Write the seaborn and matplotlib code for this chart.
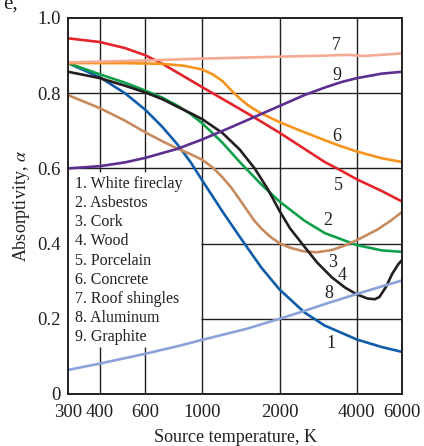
import matplotlib
matplotlib.use("Agg")
import matplotlib.pyplot as plt
from matplotlib.ticker import NullLocator
import numpy as np
import pandas as pd
import seaborn as sns

# ---------------- data ----------------
fireclay_T = [300, 400, 500, 600, 700, 800, 900, 1000, 1200, 1400, 1700, 2000, 2500, 3000, 4000, 5000, 6000]
fireclay_a = [0.880, 0.842, 0.800, 0.756, 0.710, 0.664, 0.617, 0.568, 0.485, 0.418, 0.336, 0.278, 0.217, 0.182, 0.145, 0.125, 0.112]

asbestos_T = [300, 400, 500, 600, 700, 800, 900, 1000, 1200, 1400, 1700, 2000, 2500, 3000, 4000, 5000, 6000]
asbestos_a = [0.880, 0.850, 0.828, 0.807, 0.788, 0.767, 0.745, 0.720, 0.668, 0.617, 0.557, 0.512, 0.461, 0.428, 0.396, 0.382, 0.378]

cork_T = [300, 400, 500, 600, 700, 800, 900, 1000, 1100, 1200, 1300, 1400, 1500, 1600, 1700, 1850, 2000, 2200, 2500, 2800, 3200, 3600, 4000, 4800, 5400, 6000]
cork_a = [0.795, 0.760, 0.727, 0.696, 0.672, 0.653, 0.638, 0.623, 0.602, 0.576, 0.548, 0.517, 0.487, 0.460, 0.440, 0.417, 0.401, 0.389, 0.379, 0.377, 0.383, 0.395, 0.409, 0.437, 0.460, 0.484]

wood_T = [300, 400, 500, 600, 700, 800, 900, 1000, 1200, 1400, 1600, 1800, 2000, 2200, 2500, 2800, 3200, 3600, 4000, 4400, 4700, 4900, 5200, 5500, 5800, 6000]
wood_a = [0.857, 0.840, 0.820, 0.802, 0.784, 0.764, 0.747, 0.731, 0.694, 0.650, 0.600, 0.545, 0.487, 0.440, 0.392, 0.350, 0.310, 0.283, 0.265, 0.254, 0.252, 0.258, 0.285, 0.320, 0.345, 0.356]

porcelain_T = [300, 400, 500, 600, 700, 800, 1000, 1300, 1600, 2000, 2500, 3000, 3500, 4000, 5000, 6000]
porcelain_a = [0.946, 0.936, 0.920, 0.901, 0.878, 0.855, 0.816, 0.771, 0.735, 0.695, 0.652, 0.617, 0.593, 0.571, 0.540, 0.512]

concrete_T = [300, 500, 700, 850, 1000, 1100, 1200, 1300, 1400, 1500, 1650, 1800, 2000, 2400, 3000, 3500, 4000, 5000, 6000]
concrete_a = [0.880, 0.880, 0.878, 0.873, 0.863, 0.850, 0.832, 0.807, 0.786, 0.769, 0.751, 0.738, 0.723, 0.701, 0.675, 0.658, 0.645, 0.627, 0.617]

shingles_T = [300, 600, 1000, 2000, 3000, 3700, 4200, 5000, 6000]
shingles_a = [0.882, 0.887, 0.892, 0.897, 0.900, 0.902, 0.899, 0.902, 0.906]

aluminum_T = [300, 400, 600, 800, 1000, 1500, 2000, 2500, 3000, 4000, 5000, 6000]
aluminum_a = [0.064, 0.081, 0.107, 0.127, 0.144, 0.174, 0.200, 0.221, 0.239, 0.266, 0.286, 0.302]

graphite_T = [300, 400, 500, 600, 800, 1000, 1300, 1600, 2000, 2500, 3000, 3500, 4000, 5000, 6000]
graphite_a = [0.600, 0.606, 0.616, 0.628, 0.652, 0.677, 0.710, 0.737, 0.766, 0.795, 0.815, 0.830, 0.840, 0.852, 0.857]

materials = ["White fireclay", "Asbestos", "Cork", "Wood", "Porcelain",
             "Concrete", "Roof shingles", "Aluminum", "Graphite"]
curve_numbers = ["1", "2", "3", "4", "5", "6", "7", "8", "9"]
label_T = [3170, 3090, 3230, 3500, 3390, 3340, 3340, 3110, 3340]
label_a = [0.135, 0.462, 0.351, 0.316, 0.555, 0.685, 0.927, 0.266, 0.847]

x_ticks = [300, 400, 600, 1000, 2000, 4000, 6000]
x_ticklabels = ["300", "400", "600", "1000", "2000", "4000", "6000"]
y_ticks = [0, 0.2, 0.4, 0.6, 0.8, 1.0]
y_ticklabels = ["0", "0.2", "0.4", "0.6", "0.8", "1.0"]

series = [(fireclay_T, fireclay_a), (asbestos_T, asbestos_a), (cork_T, cork_a),
          (wood_T, wood_a), (porcelain_T, porcelain_a), (concrete_T, concrete_a),
          (shingles_T, shingles_a), (aluminum_T, aluminum_a), (graphite_T, graphite_a)]

frames = []
for name, (T, a) in zip(materials, series):
    frames.append(pd.DataFrame({"T": T, "a": a, "material": name}))
df = pd.concat(frames, ignore_index=True)

palette = {
    "White fireclay": "#0F5CA8",
    "Asbestos": "#10A04B",
    "Cork": "#C78B5E",
    "Wood": "#231F20",
    "Porcelain": "#E4232B",
    "Concrete": "#F7941D",
    "Roof shingles": "#F6AA92",
    "Aluminum": "#8CA2DA",
    "Graphite": "#5B2E90",
}

# ---------------- figure ----------------
sns.set_style("white")
plt.rcParams["font.family"] = ["Liberation Serif", "DejaVu Serif"]
plt.rcParams["mathtext.fontset"] = "stix"

fig = plt.figure(figsize=(4.24, 4.46), dpi=100)
ax = fig.add_axes([68 / 424, 1 - 394 / 446, 334 / 424, 376 / 446])

ax.set_xscale("log")
ax.set_xlim(300, 6000)
ax.set_ylim(0, 1.0)

gc = "#231F20"
glw = 1.0
# grid lines (partially hidden behind the list of materials)
for yv in [0.6, 0.8]:
    ax.plot([300, 6000], [yv, yv], color=gc, lw=glw, zorder=1)
for yv in [0.2, 0.4]:
    ax.plot([990, 6000], [yv, yv], color=gc, lw=glw, zorder=1)
for xv in [1000, 2000, 4000]:
    ax.plot([xv, xv], [0, 1], color=gc, lw=glw, zorder=1)
for xv in [400, 600]:
    ax.plot([xv, xv], [0, 0.125], color=gc, lw=glw, zorder=1)
    ax.plot([xv, xv], [0.59, 1.0], color=gc, lw=glw, zorder=1)

sns.lineplot(data=df, x="T", y="a", hue="material", hue_order=materials,
             palette=palette, sort=False, estimator=None, lw=1.9,
             legend=False, ax=ax, zorder=3)
for ln in ax.get_lines():
    ln.set_solid_joinstyle("round")
    ln.set_solid_capstyle("butt")

ax.set_xticks(x_ticks)
ax.set_xticklabels(x_ticklabels)
ax.xaxis.set_minor_locator(NullLocator())
ax.set_yticks(y_ticks)
ax.set_yticklabels(y_ticklabels)
ax.tick_params(axis="x", length=0, pad=7, labelsize=13.5, colors="#231F20")
ax.tick_params(axis="y", direction="in", length=4, width=1.0, pad=5,
               labelsize=13.5, colors="#231F20")

for s in ax.spines.values():
    s.set_color("#231F20")
    s.set_linewidth(1.4)
    s.set_zorder(4)

ax.set_xlabel("Source temperature, K", fontsize=13, color="#231F20", labelpad=6)
ax.set_ylabel("Absorptivity, $\\alpha$", fontsize=13, color="#231F20", labelpad=4)

# list of materials
for i, (num, name) in enumerate(zip(curve_numbers, materials)):
    ax.text(0.021, 0.558 - i * 0.0508, f"{num}. {name}", transform=ax.transAxes,
            fontsize=11.5, color="#231F20", ha="left", va="center", zorder=5)

# curve numbers
for num, tx, ty in zip(curve_numbers, label_T, label_a):
    ax.text(tx, ty, num, fontsize=13, color="#231F20", ha="center", va="center", zorder=5)

# caption fragment at the top-left corner (cut by the image edge as in the source)
fig.text(18 / 424, 1 - 9 / 446, "e,", fontsize=15, color="#231F20", ha="right", va="baseline")

fig.savefig("out.png", dpi=100)
